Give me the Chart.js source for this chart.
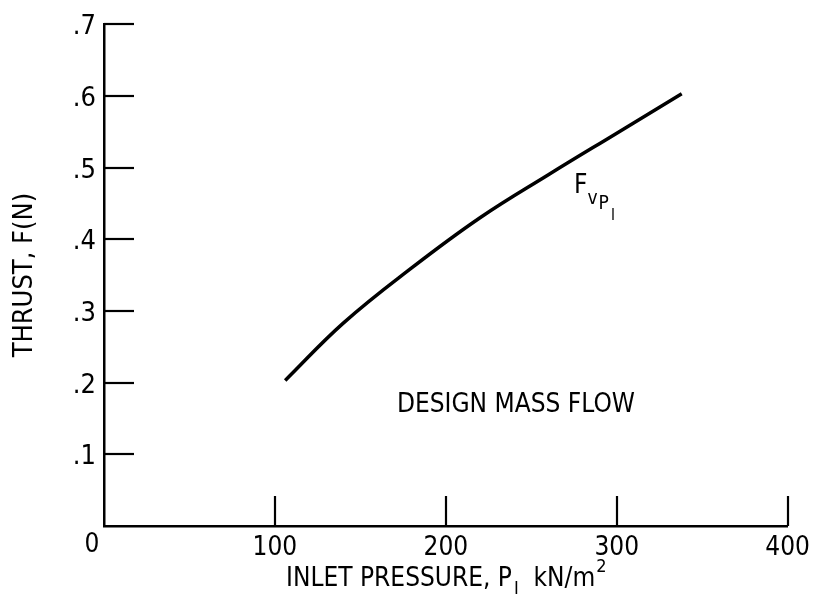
<!DOCTYPE html>
<html>
<head>
<meta charset="utf-8">
<script src="https://cdn.jsdelivr.net/npm/chart.js@4/dist/chart.umd.min.js"></script>
<style>
  html, body { margin: 0; padding: 0; background: #ffffff; }
  #wrap { width: 817px; height: 600px; }
</style>
</head>
<body>
<div id="wrap"><canvas id="c" width="817" height="600"></canvas></div>
<script>
// ---- data ----
const pressure = [106, 140, 180, 220, 260, 300, 338];
const thrust   = [0.203, 0.283, 0.360, 0.430, 0.490, 0.548, 0.603];
const xTickValues = [100, 200, 300, 400];
const xTickLabels = ['100', '200', '300', '400'];
const yTickValues = [0.1, 0.2, 0.3, 0.4, 0.5, 0.6, 0.7];
const yTickLabels = ['.1', '.2', '.3', '.4', '.5', '.6', '.7'];
const originLabel = '0';
const xTitle = ['INLET PRESSURE, P', 'I', '  kN/m', '2'];
const yTitle = 'THRUST, F(N)';
const noteText = 'DESIGN MASS FLOW';
const notePos = [241, 0.169];
const curveLabel = ['F', 'v', 'P', 'I'];
const curveLabelPos = [275, 0.465];

const FONT = "'Liberation Sans Narrow', 'DejaVu Sans Condensed', 'Arial Narrow', sans-serif";

const bgPlugin = {
  id: 'bg',
  beforeDraw(chart) {
    const ctx = chart.ctx;
    ctx.save();
    ctx.fillStyle = '#ffffff';
    ctx.fillRect(0, 0, chart.width, chart.height);
    ctx.restore();
  }
};

const decorPlugin = {
  id: 'decor',
  afterDraw(chart) {
    const ctx = chart.ctx;
    const xs = chart.scales.x, ys = chart.scales.y;
    const area = chart.chartArea;
    ctx.save();
    ctx.strokeStyle = '#000';
    ctx.fillStyle = '#000';
    // inward tick marks
    ctx.lineWidth = 2.2;
    xTickValues.forEach(v => {
      const px = Math.round(xs.getPixelForValue(v));
      ctx.beginPath();
      ctx.moveTo(px, area.bottom);
      ctx.lineTo(px, area.bottom - 30);
      ctx.stroke();
    });
    yTickValues.forEach(v => {
      const py = Math.round(ys.getPixelForValue(v));
      ctx.beginPath();
      ctx.moveTo(area.left, py);
      ctx.lineTo(area.left + 30, py);
      ctx.stroke();
    });

    // origin label
    ctx.font = '26px ' + FONT;
    ctx.textAlign = 'center';
    ctx.textBaseline = 'top';
    ctx.fillText(originLabel, xs.getPixelForValue(0) - 12, area.bottom + 6);

    // x axis title with subscript and superscript
    ctx.textAlign = 'left';
    ctx.textBaseline = 'alphabetic';
    const bigF = '26px ' + FONT, smallF = '18px ' + FONT;
    ctx.font = bigF;
    const w0 = ctx.measureText(xTitle[0]).width;
    ctx.font = smallF;
    const w1 = ctx.measureText(xTitle[1]).width;
    ctx.font = bigF;
    const w2 = ctx.measureText(xTitle[2]).width;
    ctx.font = smallF;
    const w3 = ctx.measureText(xTitle[3]).width;
    const total = w0 + 2 + w1 + w2 + w3;
    let x0 = (area.left + area.right) / 2 - total / 2;
    const base = area.bottom + 60;
    ctx.font = bigF; ctx.fillText(xTitle[0], x0, base); x0 += w0 + 2;
    ctx.font = smallF; ctx.fillText(xTitle[1], x0, base + 8); x0 += w1;
    ctx.font = bigF; ctx.fillText(xTitle[2], x0, base); x0 += w2;
    ctx.font = smallF; ctx.fillText(xTitle[3], x0 + 1, base - 14);

    // y axis title
    ctx.save();
    ctx.translate(25, (area.top + area.bottom) / 2);
    ctx.rotate(-Math.PI / 2);
    ctx.font = '27px ' + FONT;
    ctx.textAlign = 'center';
    ctx.textBaseline = 'middle';
    ctx.fillText(yTitle, 0, 0);
    ctx.restore();

    // annotation
    ctx.font = '26px ' + FONT;
    ctx.textAlign = 'center';
    ctx.textBaseline = 'middle';
    ctx.fillText(noteText, xs.getPixelForValue(notePos[0]), ys.getPixelForValue(notePos[1]));

    // curve label F_{vP_I}
    ctx.textAlign = 'left';
    ctx.textBaseline = 'alphabetic';
    let lx = xs.getPixelForValue(curveLabelPos[0]);
    const ly = ys.getPixelForValue(curveLabelPos[1]);
    ctx.font = '26px ' + FONT;
    ctx.fillText(curveLabel[0], lx, ly);
    lx += ctx.measureText(curveLabel[0]).width;
    ctx.font = '19px ' + FONT;
    ctx.fillText(curveLabel[1], lx, ly + 11);
    lx += ctx.measureText(curveLabel[1]).width + 1;
    ctx.fillText(curveLabel[2], lx, ly + 16);
    lx += ctx.measureText(curveLabel[2]).width + 2;
    ctx.font = '15px ' + FONT;
    ctx.fillText(curveLabel[3], lx, ly + 27);

    ctx.restore();
  }
};

new Chart(document.getElementById('c'), {
  type: 'line',
  data: {
    datasets: [{
      data: pressure.map((p, i) => ({ x: p, y: thrust[i] })),
      borderColor: '#000',
      borderWidth: 3.5,
      pointRadius: 0,
      fill: false,
      tension: 0.4
    }]
  },
  options: {
    responsive: false,
    animation: false,
    events: [],
    layout: { padding: { top: 16, right: 22, left: 0, bottom: 0 } },
    plugins: { legend: { display: false }, tooltip: { enabled: false }, title: { display: false } },
    scales: {
      x: {
        type: 'linear',
        min: 0, max: 400,
        afterBuildTicks(scale) { scale.ticks = xTickValues.map(v => ({ value: v })); },
        afterFit(scale) { scale.height = 74; },
        grid: { display: true, drawOnChartArea: false, drawTicks: false },
        border: { display: true, color: '#000', width: 2.5 },
        ticks: {
          padding: 7,
          color: '#000',
          font: { family: FONT, size: 26 },
          maxRotation: 0,
          autoSkip: false,
          callback(value) {
            const i = xTickValues.indexOf(value);
            return i >= 0 ? xTickLabels[i] : '';
          }
        }
      },
      y: {
        type: 'linear',
        min: 0, max: 0.7,
        afterBuildTicks(scale) { scale.ticks = yTickValues.map(v => ({ value: v })); },
        afterFit(scale) { scale.width = 104; },
        grid: { display: true, drawOnChartArea: false, drawTicks: false },
        border: { display: true, color: '#000', width: 2.5 },
        ticks: {
          padding: 8,
          labelOffset: 3,
          color: '#000',
          font: { family: FONT, size: 27 },
          autoSkip: false,
          callback(value) {
            const i = yTickValues.findIndex(v => Math.abs(v - value) < 1e-9);
            return i >= 0 ? yTickLabels[i] : '';
          }
        }
      }
    }
  },
  plugins: [bgPlugin, decorPlugin]
});
</script>
</body>
</html>
